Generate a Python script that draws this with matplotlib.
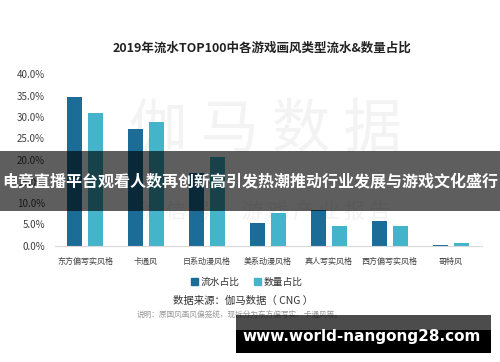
import matplotlib
matplotlib.use("Agg")
import matplotlib.pyplot as plt
from matplotlib.patches import Rectangle, Patch
import numpy as np

plt.rcParams['font.family'] = ['Noto Sans CJK SC', 'DejaVu Sans']

categories = ["东方偏写实风格", "卡通风", "日系动漫风格", "美系动漫风格", "真人写实风格", "西方偏写实风格", "哥特风"]
flow_share = [34.7, 27.1, 17.0, 5.4, 8.3, 5.8, 0.3]   # 流水占比 (%)
count_share = [30.9, 28.8, 20.8, 7.7, 4.7, 4.7, 0.8]  # 数量占比 (%)
series_names = ["流水占比", "数量占比"]
yticks = [0, 5, 10, 15, 20, 25, 30, 35, 40]

W, H = 500, 362
fig = plt.figure(figsize=(5, 3.62), dpi=100)
fig.patch.set_facecolor("white")

def fy(py):
    return 1 - py / H

ax = fig.add_axes([54.5 / W, fy(246), 427 / W, (246 - 74) / H])
ax.set_facecolor("none")

dark = "#1b6d98"
light = "#43b4c9"
x = np.arange(len(categories))
bw = 0.246
off = 0.164
ax.bar(x - off, flow_share, bw, color=dark, zorder=2)
ax.bar(x + off, count_share, bw, color=light, zorder=2)

ax.set_xlim(-0.5, len(categories) - 0.5)
ax.set_ylim(0, 40)
ax.set_yticks(yticks)
ax.set_yticklabels(["%.1f%%" % v for v in yticks], fontsize=7, color="#404040")
ax.set_xticks(x)
ax.set_xticklabels(categories, fontsize=5.8, color="#404040")
ax.tick_params(axis="y", length=0, pad=7)
ax.tick_params(axis="x", length=0, pad=8)
for s in ["top", "right", "left"]:
    ax.spines[s].set_visible(False)
ax.spines["bottom"].set_color("#d9d9d9")
ax.spines["bottom"].set_linewidth(0.8)

# watermark
fig.text(265 / W, fy(130), "伽 马 数 据", fontsize=42, color="#f3f3f3",
         ha="center", va="center", zorder=-1)
fig.text(265 / W, fy(212), "微 信 号 ： 游 戏 产 业 报 告", fontsize=15, color="#f2f2f2",
         ha="center", va="center", zorder=-1)

fig.text(262 / W, fy(48), "2019年流水TOP100中各游戏画风类型流水&数量占比",
         fontsize=9, fontweight="bold", color="#222222", ha="center", va="center")

handles = [Patch(color=dark), Patch(color=light)]
fig.legend(handles, series_names, loc="center", bbox_to_anchor=(247 / W, fy(282)),
           ncol=2, frameon=False, fontsize=7, handlelength=0.7, handleheight=0.7,
           handletextpad=0.3, columnspacing=1.5, labelcolor="#333333")

fig.text(243 / W, fy(301), "数据来源：伽马数据（ CNG ）", fontsize=7.5, color="#333333",
         ha="center", va="center")
fig.text(240 / W, fy(316), "说明：原国风画风偏笼统，现拆分为东方偏写实、卡通风等。", fontsize=5.5,
         color="#999999", ha="center", va="center")

# overlay band with headline
fig.patches.append(Rectangle((0, fy(211)), 1, 60 / H, transform=fig.transFigure,
                             facecolor="black", alpha=0.63, zorder=5))
fig.text(0.5, fy(181), "电竞直播平台观看人数再创新高引发热潮推动行业发展与游戏文化盛行",
         fontsize=11.5, fontweight="bold", color="white", ha="center", va="center", zorder=6)

# bottom url box
fig.patches.append(Rectangle((236 / W, fy(330)), 255 / W, 15 / H, transform=fig.transFigure,
                             facecolor="black", alpha=0.7, zorder=5))
fig.patches.append(Rectangle((236 / W, fy(353)), 255 / W, 23 / H, transform=fig.transFigure,
                             facecolor="black", zorder=5))
fig.text(362 / W, fy(337), "www.world-nangong28.com", fontsize=11, fontweight="bold",
         family="DejaVu Sans", color="white", ha="center", va="center", zorder=6)

fig.savefig("out.png", dpi=100)
